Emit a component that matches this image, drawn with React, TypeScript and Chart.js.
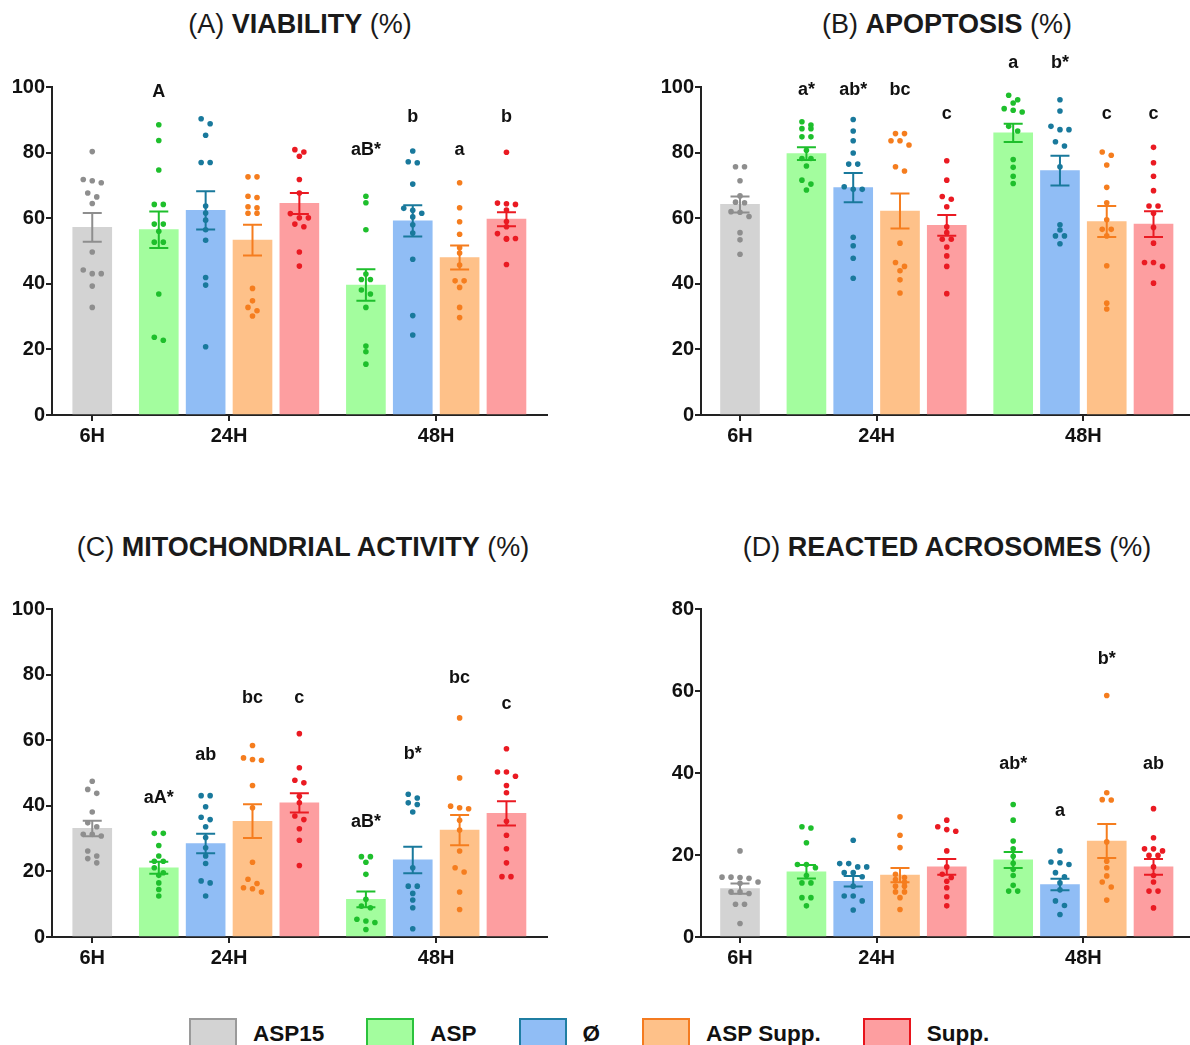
import React, { useEffect, useRef } from 'react';
import { Chart, registerables } from 'chart.js';

Chart.register(...registerables);

// ---------- categories ----------
const timeLabels = ['6H', '24H', '48H'];
const treatments = ['ASP15', 'ASP', 'Ø', 'ASP Supp.', 'Supp.'];
// each bar: which time point and which treatment
const barTime = [0, 1, 1, 1, 1, 2, 2, 2, 2];
const barTreatment = [0, 1, 2, 3, 4, 1, 2, 3, 4];

// ---------- colours ----------
const barFill = ['#d3d3d3', '#a3fd9e', '#90bdf5', '#fec189', '#fd9ea0'];
const dotColor = ['#8e8e8e', '#1ebf2c', '#19799c', '#f57d1e', '#ea1a22'];
const legendBorder = ['#9a9a9a', '#2bc23c', '#1f7ea2', '#f47b20', '#e8141c'];

// ---------- (A) VIABILITY ----------
const viabilityMeans = [57.2, 56.5, 62.4, 53.3, 64.5, 39.6, 59.2, 48.0, 59.7];
const viabilitySem = [4.35, 5.55, 5.85, 4.7, 3.2, 4.8, 4.75, 3.65, 2.15];
const viabilityPoints = [
  [80.3, 71.8, 71.4, 70.8, 67.7, 66.5, 64.5, 49.7, 44.2, 43.1, 43.1, 39.3, 32.8],
  [88.5, 83.7, 74.7, 64.2, 64.2, 58.2, 58.2, 56.0, 52.7, 52.7, 36.9, 23.7, 22.8],
  [90.3, 88.8, 85.3, 77.0, 77.0, 63.7, 61.6, 59.4, 56.5, 53.3, 41.9, 39.6, 20.8],
  [72.6, 72.6, 66.7, 66.3, 63.5, 63.2, 61.5, 61.5, 38.6, 34.8, 32.8, 31.8, 30.2],
  [80.9, 80.2, 78.9, 71.8, 67.7, 61.4, 60.1, 60.1, 58.2, 57.4, 49.7, 45.4],
  [66.7, 64.7, 56.5, 43.0, 41.3, 41.3, 38.1, 36.9, 32.8, 21.0, 19.3, 15.5],
  [80.5, 77.2, 76.9, 70.4, 63.0, 62.4, 61.5, 60.4, 58.0, 55.5, 47.5, 30.3, 24.4],
  [70.8, 63.2, 58.9, 55.1, 51.0, 49.4, 45.7, 40.9, 40.9, 38.9, 32.8, 29.7],
  [80.1, 64.6, 64.4, 64.2, 62.5, 59.0, 57.4, 55.3, 53.8, 53.8, 53.6, 45.9],
];
const viabilityLetters = ['', 'A', '', '', '', 'aB*', 'b', 'a', 'b'];
const viabilityLetterY = [0, 98.5, 0, 0, 0, 80.7, 90.9, 80.7, 90.9];

// ---------- (B) APOPTOSIS ----------
const apoptosisMeans = [64.2, 79.7, 69.3, 62.2, 57.8, 86.0, 74.5, 59.0, 58.2];
const apoptosisSem = [2.45, 1.95, 4.45, 5.35, 3.15, 2.8, 4.55, 4.75, 3.9];
const apoptosisPoints = [
  [75.7, 75.7, 71.4, 66.8, 64.9, 64.7, 62.0, 61.8, 60.5, 55.6, 53.4, 49.0],
  [89.4, 88.4, 87.3, 87.3, 84.8, 84.8, 80.7, 78.2, 78.2, 75.9, 71.6, 70.4, 68.6],
  [90.1, 86.6, 83.6, 79.9, 76.5, 76.5, 69.6, 68.8, 68.8, 54.2, 51.6, 47.8, 41.7],
  [85.8, 85.8, 83.6, 83.6, 82.3, 75.7, 74.4, 52.4, 46.5, 45.3, 44.0, 41.2, 37.2],
  [77.5, 71.6, 66.6, 65.8, 63.5, 57.4, 55.6, 53.6, 53.6, 51.2, 48.5, 45.3, 37.0],
  [97.5, 96.1, 95.1, 93.4, 92.9, 92.4, 88.0, 86.6, 77.9, 75.5, 72.8, 70.6],
  [96.1, 92.7, 88.0, 87.0, 87.0, 83.3, 82.0, 75.7, 58.0, 56.4, 54.6, 54.6, 52.2],
  [80.2, 79.2, 76.2, 69.4, 64.7, 59.5, 56.6, 56.6, 54.6, 45.5, 34.1, 32.3],
  [81.6, 76.9, 72.8, 68.4, 63.7, 63.7, 61.5, 57.2, 52.4, 46.5, 46.5, 45.3, 40.2],
];
const apoptosisLetters = ['', 'a*', 'ab*', 'bc', 'c', 'a', 'b*', 'c', 'c'];
const apoptosisLetterY = [0, 99.2, 99.2, 99.2, 91.7, 107.3, 107.3, 91.7, 91.7];

// ---------- (C) MITOCHONDRIAL ACTIVITY ----------
const mitoMeans = [33.1, 21.1, 28.5, 35.3, 40.9, 11.5, 23.5, 32.6, 37.7];
const mitoSem = [2.35, 1.85, 2.95, 5.15, 2.95, 2.4, 4.05, 4.6, 3.7];
const mitoPoints = [
  [47.5, 45.0, 43.8, 38.1, 34.8, 33.6, 31.3, 31.3, 30.8, 26.2, 24.7, 23.9, 22.6],
  [31.6, 31.6, 27.9, 24.7, 23.1, 23.1, 21.1, 19.6, 18.8, 16.5, 14.5, 12.5],
  [43.1, 43.1, 39.7, 36.5, 35.8, 33.6, 30.3, 27.2, 24.7, 22.4, 17.1, 16.5, 12.5],
  [58.4, 54.6, 54.1, 53.9, 46.2, 39.4, 22.8, 17.6, 16.3, 15.0, 14.7, 13.7],
  [62.0, 51.6, 47.8, 47.0, 42.9, 40.9, 36.9, 35.8, 33.0, 29.5, 21.8],
  [24.5, 24.5, 22.8, 19.1, 11.5, 9.4, 8.9, 5.4, 4.9, 4.4, 2.3],
  [43.5, 42.4, 40.9, 40.4, 38.1, 21.1, 15.5, 15.5, 13.3, 11.3, 8.9, 2.5],
  [66.8, 48.5, 39.9, 39.4, 39.1, 35.6, 32.6, 26.2, 21.1, 19.8, 13.7, 8.4],
  [57.4, 50.3, 50.3, 49.0, 46.2, 44.0, 35.3, 31.0, 26.9, 22.6, 18.4, 18.4],
];
const mitoLetters = ['', 'aA*', 'ab', 'bc', 'c', 'aB*', 'b*', 'bc', 'c'];
const mitoLetterY = [0, 42.4, 55.6, 72.9, 72.9, 35.0, 55.9, 79.0, 70.9];

// ---------- (D) REACTED ACROSOMES ----------
const acroMeans = [11.8, 15.9, 13.6, 15.1, 17.1, 18.8, 12.8, 23.4, 17.1];
const acroSem = [1.25, 1.65, 1.3, 1.75, 1.9, 1.95, 1.4, 4.15, 1.9];
const acroPoints = [
  [21.0, 14.6, 14.6, 14.5, 14.3, 13.4, 13.1, 11.0, 11.0, 10.6, 8.0, 8.0, 3.3],
  [26.9, 26.6, 23.0, 17.7, 17.7, 16.9, 15.0, 13.2, 13.2, 9.6, 9.6, 7.6],
  [23.6, 17.9, 17.9, 17.1, 17.1, 15.7, 15.7, 14.7, 12.4, 10.0, 10.0, 8.8, 6.6],
  [29.3, 24.8, 21.8, 15.3, 14.5, 14.0, 13.4, 12.4, 12.4, 11.0, 11.0, 9.6, 6.7],
  [28.5, 26.9, 26.2, 25.8, 21.0, 17.1, 15.3, 14.5, 13.6, 12.0, 9.8, 7.6],
  [32.3, 28.5, 23.4, 21.5, 19.7, 18.0, 16.5, 15.0, 12.6, 11.2, 11.2],
  [21.0, 18.3, 18.1, 17.7, 15.7, 14.7, 13.2, 11.5, 8.8, 7.7, 5.5],
  [58.9, 35.2, 33.5, 33.4, 23.2, 18.5, 16.9, 14.9, 13.4, 12.2, 9.0],
  [31.3, 24.2, 21.5, 21.5, 21.0, 19.9, 19.9, 17.1, 15.0, 13.4, 11.2, 11.2, 7.1],
];
const acroLetters = ['', '', '', '', '', 'ab*', 'a', 'b*', 'ab'];
const acroLetterY = [0, 0, 0, 0, 0, 42.3, 30.7, 67.8, 42.3];

// ---------- layout helpers ----------
const GROUP_GAP = 1.42; // distance (in bar pitches) between time groups
const barPos: number[] = [];
barTime.forEach((t, i) => {
  if (i === 0) barPos.push(0);
  else barPos.push(barPos[i - 1] + (t !== barTime[i - 1] ? GROUP_GAP : 1));
});
const timeTickPos = timeLabels.map((_, t) => {
  const ps = barPos.filter((_, i) => barTime[i] === t);
  return ps.reduce((a, b) => a + b, 0) / ps.length;
});

const FONT = '"Liberation Sans", Arial, Helvetica, sans-serif';

type Panel = {
  key: string;
  prefix: string;
  bold: string;
  means: number[];
  sem: number[];
  points: number[][];
  letters: string[];
  letterY: number[];
  yMax: number;
  left: number;
  top: number;
  width: number;
  height: number;
  yAxisWidth: number;
  pad: { left: number; right: number; top: number; bottom: number };
  xMin: number;
  xMax: number;
  titleX: number;
  titleY: number;
};

const panels: Panel[] = [
  {
    key: 'A', prefix: '(A) ', bold: 'VIABILITY',
    means: viabilityMeans, sem: viabilitySem, points: viabilityPoints,
    letters: viabilityLetters, letterY: viabilityLetterY, yMax: 100,
    left: 0, top: 40, width: 560, height: 420, yAxisWidth: 52,
    pad: { left: 0, right: 13, top: 47, bottom: 5 }, xMin: -0.859, xMax: 9.705,
    titleX: 300, titleY: 24,
  },
  {
    key: 'B', prefix: '(B) ', bold: 'APOPTOSIS',
    means: apoptosisMeans, sem: apoptosisSem, points: apoptosisPoints,
    letters: apoptosisLetters, letterY: apoptosisLetterY, yMax: 100,
    left: 650, top: 40, width: 540, height: 420, yAxisWidth: 51,
    pad: { left: 0, right: 0, top: 47, bottom: 5 }, xMin: -0.834, xMax: 9.62,
    titleX: 947, titleY: 24,
  },
  {
    key: 'C', prefix: '(C) ', bold: 'MITOCHONDRIAL ACTIVITY',
    means: mitoMeans, sem: mitoSem, points: mitoPoints,
    letters: mitoLetters, letterY: mitoLetterY, yMax: 100,
    left: 0, top: 560, width: 560, height: 420, yAxisWidth: 52,
    pad: { left: 0, right: 13, top: 49, bottom: 3 }, xMin: -0.859, xMax: 9.705,
    titleX: 303, titleY: 547,
  },
  {
    key: 'D', prefix: '(D) ', bold: 'REACTED ACROSOMES',
    means: acroMeans, sem: acroSem, points: acroPoints,
    letters: acroLetters, letterY: acroLetterY, yMax: 80,
    left: 650, top: 560, width: 540, height: 420, yAxisWidth: 51,
    pad: { left: 0, right: 0, top: 49, bottom: 3 }, xMin: -0.834, xMax: 9.62,
    titleX: 947, titleY: 547,
  },
];

// GraphPad-like horizontal spreading of points that sit at (nearly) the same height
function spreadPoints(values: number[], pxPerY: number, pxPerX: number) {
  const sorted = [...values].sort((a, b) => b - a);
  const rows: number[][] = [];
  for (const v of sorted) {
    const row = rows[rows.length - 1];
    if (row && (row[0] - v) * pxPerY < 5) row.push(v);
    else rows.push([v]);
  }
  const out: { dx: number; y: number }[] = [];
  rows.forEach((r) =>
    r.forEach((v, i) => out.push({ dx: ((i - (r.length - 1) / 2) * 9) / pxPerX, y: v }))
  );
  return out;
}

function makeOverlay(p: Panel) {
  return {
    id: 'overlay' + p.key,
    afterDatasetDraw(chart: any, args: any) {
      if (args.index !== 0) return;
      const ctx = chart.ctx;
      const xs = chart.scales.x;
      const ys = chart.scales.y;
      ctx.save();
      p.means.forEach((m, i) => {
        const cx = xs.getPixelForValue(barPos[i]);
        const yTop = ys.getPixelForValue(m + p.sem[i]);
        const yBot = ys.getPixelForValue(m - p.sem[i]);
        ctx.strokeStyle = dotColor[barTreatment[i]];
        ctx.lineWidth = 2;
        ctx.beginPath();
        ctx.moveTo(cx, yTop);
        ctx.lineTo(cx, yBot);
        ctx.moveTo(cx - 9.5, yTop);
        ctx.lineTo(cx + 9.5, yTop);
        ctx.moveTo(cx - 9.5, yBot);
        ctx.lineTo(cx + 9.5, yBot);
        ctx.stroke();
      });
      ctx.restore();
    },
    afterDraw(chart: any) {
      const ctx = chart.ctx;
      const xs = chart.scales.x;
      const ys = chart.scales.y;
      ctx.save();
      ctx.fillStyle = '#111';
      ctx.font = 'bold 18px ' + FONT;
      ctx.textAlign = 'center';
      ctx.textBaseline = 'middle';
      p.letters.forEach((l, i) => {
        if (!l) return;
        ctx.fillText(l, xs.getPixelForValue(barPos[i]), ys.getPixelForValue(p.letterY[i]));
      });
      ctx.restore();
    },
  };
}

function PanelChart({ p }: { p: Panel }) {
  const ref = useRef<HTMLCanvasElement | null>(null);
  useEffect(() => {
    if (!ref.current) return;
    const chartW = p.width - p.pad.left - p.pad.right - p.yAxisWidth;
    const chartH = p.height - p.pad.top - p.pad.bottom - 40;
    const pxPerX = chartW / (p.xMax - p.xMin);
    const pxPerY = chartH / p.yMax;

    const scatterSets = p.points.map((vals, i) => ({
      type: 'scatter' as const,
      data: spreadPoints(vals, pxPerY, pxPerX).map((d) => ({ x: barPos[i] + d.dx, y: d.y })),
      backgroundColor: dotColor[barTreatment[i]],
      borderWidth: 0,
      pointRadius: 2.8,
      pointHoverRadius: 2.8,
      order: 1,
      clip: false as any,
    }));

    const chart = new Chart(ref.current, {
      type: 'bar',
      data: {
        datasets: [
          {
            type: 'bar',
            data: p.means.map((m, i) => ({ x: barPos[i], y: m })),
            backgroundColor: barTreatment.map((t) => barFill[t]),
            borderWidth: 0,
            barThickness: 39,
            grouped: false,
            order: 2,
          } as any,
          ...scatterSets,
        ],
      },
      options: {
        animation: false,
        responsive: false,
        events: [],
        layout: { padding: p.pad, autoPadding: false } as any,
        plugins: { legend: { display: false }, tooltip: { enabled: false }, title: { display: false } },
        scales: {
          x: {
            type: 'linear',
            min: p.xMin,
            max: p.xMax,
            offset: false,
            afterBuildTicks: (axis: any) => {
              axis.ticks = timeTickPos.map((v) => ({ value: v }));
            },
            afterFit: (s: any) => {
              s.height = 40;
            },
            ticks: {
              autoSkip: false,
              maxRotation: 0,
              padding: 3,
              color: '#111',
              font: { family: FONT, size: 20, weight: 'bold' },
              callback: (_v: any, i: number) => timeLabels[i],
            },
            grid: {
              offset: false,
              drawOnChartArea: false,
              drawTicks: true,
              tickLength: 6,
              color: '#222',
              lineWidth: 2,
            },
            border: { display: true, color: '#222', width: 2 },
          },
          y: {
            type: 'linear',
            min: 0,
            max: p.yMax,
            afterFit: (s: any) => {
              s.width = p.yAxisWidth;
            },
            ticks: {
              stepSize: 20,
              padding: 1,
              color: '#111',
              font: { family: FONT, size: 20, weight: 'bold' },
            },
            grid: { drawOnChartArea: false, drawTicks: true, tickLength: 6, color: '#222', lineWidth: 2 },
            border: { display: true, color: '#222', width: 2 },
          },
        },
      } as any,
      plugins: [makeOverlay(p)],
    });
    return () => chart.destroy();
  }, [p]);

  return (
    <canvas
      ref={ref}
      width={p.width}
      height={p.height}
      style={{ position: 'absolute', left: p.left, top: p.top, width: p.width, height: p.height }}
    />
  );
}

export default function App() {
  return (
    <div
      style={{
        position: 'absolute',
        left: 0,
        top: 0,
        width: 1190,
        height: 1045,
        overflow: 'hidden',
        background: '#fff',
        fontFamily: FONT,
      }}
    >
      {panels.map((p) => (
        <div
          key={'t' + p.key}
          style={{
            position: 'absolute',
            left: p.titleX - 300,
            width: 600,
            top: p.titleY - 16,
            height: 32,
            lineHeight: '32px',
            textAlign: 'center',
            fontSize: 27,
            color: '#1a1a1a',
            whiteSpace: 'nowrap',
          }}
        >
          {p.prefix}
          <b>{p.bold}</b>
          {' (%)'}
        </div>
      ))}
      {panels.map((p) => (
        <PanelChart key={p.key} p={p} />
      ))}
      <div
        style={{
          position: 'absolute',
          left: 189,
          top: 1018,
          display: 'flex',
          alignItems: 'flex-start',
          whiteSpace: 'nowrap',
        }}
      >
        {treatments.map((t, i) => (
          <div key={t} style={{ display: 'flex', alignItems: 'flex-start', marginRight: 42 }}>
            <div
              style={{
                width: 48,
                height: 30,
                boxSizing: 'border-box',
                border: '2.5px solid ' + legendBorder[i],
                background: barFill[i],
              }}
            />
            <div
              style={{
                marginLeft: 16,
                fontSize: 22.5,
                fontWeight: 'bold',
                color: '#111',
                lineHeight: '30px',
                marginTop: 1,
              }}
            >
              {t}
            </div>
          </div>
        ))}
      </div>
    </div>
  );
}
